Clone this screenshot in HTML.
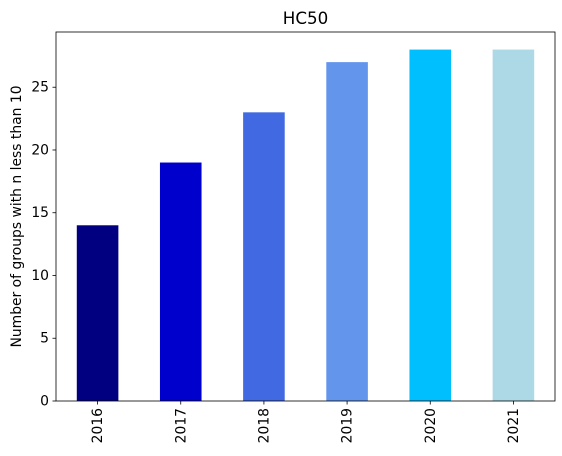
<!DOCTYPE html>
<html><head><meta charset="utf-8"><style>body{margin:0;background:#fff}svg{display:block;font-family:"DejaVu Sans","Liberation Sans",sans-serif}</style></head>
<body>
<svg id="chart" width="562" height="456"></svg>
<script>
const categories=["2016","2017","2018","2019","2020","2021"];
const values=[14,19,23,27,28,28];
const colors=["#000080","#0000cd","#4169e1","#6495ed","#00bfff","#add8e6"];
const yTicks=[0,5,10,15,20,25];
const NS="http://www.w3.org/2000/svg";
const svg=document.getElementById("chart");
const L=56,R=555,T=32,B=401;
const yMax=Math.max(...values)*1.05;
const y=v=>B-(v/yMax)*(B-T);
const step=(R-L)/categories.length;
const x=i=>L+step*(i+0.5);
function mk(tag,attrs,txt){const e=document.createElementNS(NS,tag);for(const k in attrs)e.setAttribute(k,attrs[k]);if(txt!==undefined)e.textContent=txt;svg.appendChild(e);return e;}
values.forEach((v,i)=>{
 const r=mk("rect",{x:x(i)-step/4,y:y(v),width:step/2,height:B-y(v),fill:colors[i]});
 
 
 const t=mk("line",{x1:x(i),x2:x(i),y1:B,y2:B+3.5,stroke:"#000","stroke-width":0.8});
 
 
 const lb=mk("text",{x:0,y:0,transform:`translate(${x(i)+4.5},${B+7}) rotate(-90)`,"text-anchor":"end","font-size":13.9},categories[i]);
 
 
});
yTicks.forEach(v=>{
 const t=mk("line",{x1:L-3.5,x2:L,y1:y(v),y2:y(v),stroke:"#000","stroke-width":0.8});
 
 
 const lb=mk("text",{x:L-7,y:y(v)+4.5,"text-anchor":"end","font-size":13.9},v);
 
 
});
const fr=mk("rect",{x:L,y:T,width:R-L,height:B-T,fill:"none",stroke:"#000","stroke-width":0.8});


const ti=mk("text",{x:(L+R)/2,y:T-8,"text-anchor":"middle","font-size":16.7},"HC50");


const yl=mk("text",{x:0,y:0,transform:`translate(21,${(T+B)/2}) rotate(-90)`,"text-anchor":"middle","font-size":13.9},"Number of groups with n less than 10");


</script>
</body></html>
